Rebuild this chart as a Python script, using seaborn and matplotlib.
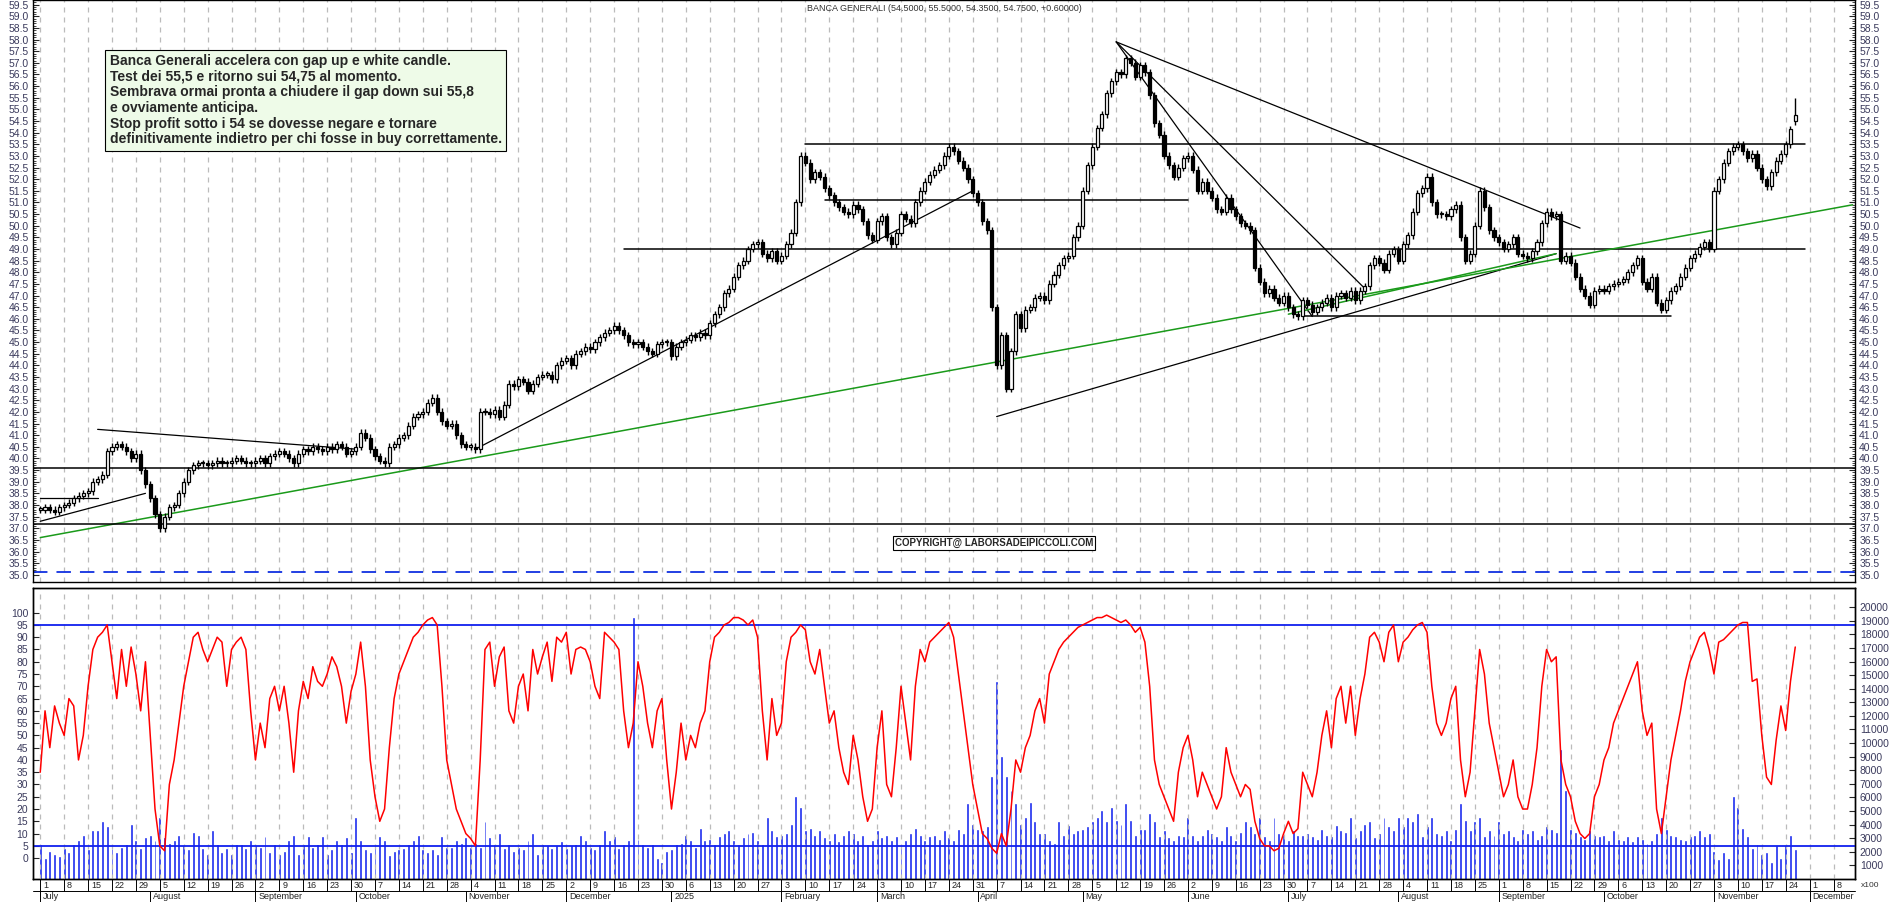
import numpy as np
import pandas as pd
import seaborn as sns
import matplotlib
matplotlib.use("Agg")
from matplotlib import pyplot as plt
import matplotlib.transforms as mtrans

# ---- data ----
closes = (
    [37.8,37.9,37.8,37.7,37.9,38.0,38.1,38.3,38.4,38.5,38.6,39.0,39.1,39.3,40.3,40.5,40.6,40.5,40.3,40.0,40.2,39.5,38.9] +
    [38.3,37.6,37.0,37.5,37.9,38.0,38.5,39.0,39.5,39.7,39.8,39.8,39.7,39.8,39.9,39.8,39.8,39.9,40.0,39.9,39.8,39.8] +
    [39.9,40.0,39.8,40.1,40.2,40.3,40.2,40.0,39.8,40.2,40.4,40.3,40.5,40.4,40.3,40.5,40.4,40.6,40.5,40.2,40.3] +
    [40.5,41.1,40.9,40.4,40.1,39.9,39.8,40.5,40.6,40.9,41.0,41.4,41.8,41.9,42.0,42.4,42.6,42.0,41.6,41.4,41.5,41.0,40.6] +
    [40.5,40.5,40.4,42.0,42.0,41.9,42.1,41.8,42.3,43.2,43.1,43.4,43.3,42.9,43.2,43.5,43.6,43.6,43.4,44.0,44.2] +
    [44.3,44.0,44.5,44.6,44.8,44.7,45.0,45.2,45.4,45.5,45.7,45.5,45.3,45.0,44.9,45.0,44.8,44.6,44.5,44.9,45.0,45.0] +
    [44.4,44.8,45.0,45.1,45.3,45.2,45.4,45.3,45.8,46.2,46.5,47.1,47.3,47.8,48.3,48.5,49.0,49.2,49.3,48.8,48.6,48.9,48.5] +
    [48.7,49.2,49.7,51.0,53.0,52.7,52.0,52.3,52.1,51.6,51.3,51.0,50.8,50.6,50.5,50.9,50.7,50.2,49.6,49.4] +
    [50.2,50.4,49.5,49.2,49.7,50.5,50.3,50.1,51.0,51.5,51.9,52.2,52.4,52.6,53.0,53.4,53.2,52.8,52.5,52.0,51.4] +
    [51.0,50.2,49.8,46.5,44.0,45.3,43.0,44.6,46.2,45.6,46.4,46.5,46.9,47.0,46.8,47.5,47.9,48.3,48.6,48.7,49.5,50.0] +
    [51.5,52.6,53.4,54.2,54.8,55.7,56.2,56.6,56.5,57.2,57.0,56.4,56.9,56.6,55.6,54.4,53.9,53.0,52.6,52.1,52.5,52.9] +
    [53.0,52.4,51.5,51.9,51.5,51.2,50.7,50.6,51.2,50.7,50.4,50.1,50.0,49.8,48.2,47.6,47.1,47.3,46.9,46.7,47.0] +
    [46.5,46.2,46.1,46.8,46.6,46.3,46.5,46.7,46.9,46.5,47.0,47.1,46.9,47.2,46.8,47.2,47.4,48.3,48.6,48.4,48.1,48.8,49.0] +
    [48.5,49.2,49.6,50.6,51.4,51.6,52.1,51.0,50.5,50.5,50.4,50.7,50.9,49.5,48.5,48.8,50.0,51.5,50.8,49.8,49.5] +
    [49.3,49.0,49.2,49.5,48.8,48.7,48.6,48.9,49.3,50.1,50.6,50.4,50.5,48.5,48.7,48.4,47.8,47.3,47.0,46.6,47.2,47.3] +
    [47.2,47.4,47.5,47.6,47.7,48.0,48.3,48.6,47.6,47.3,47.8,46.7,46.4,46.8,47.2,47.4,47.8,48.2,48.6,48.8,49.1,49.3,49.0] +
    [51.5,52.0,52.7,53.2,53.4,53.5,53.2,52.9,53.1,52.5,52.0,51.7,52.3,52.8,53.1,53.5,54.15,54.75]
)
last_open, last_high, last_low = 54.5, 55.5, 54.35

stoch = (
    [35,60,45,62,55,50,65,62,40,50,70,85,90,92,95,80,65,85,70,86,75,60,80] +
    [50,20,5,3,30,40,55,70,80,90,92,85,80,85,90,88,70,85,88,90,85,60] +
    [40,55,45,65,70,60,70,55,35,60,72,65,78,72,70,75,82,78,70,55,68] +
    [75,88,70,40,25,15,20,45,65,75,80,85,90,92,95,97,98,95,70,40,30,20,15] +
    [10,8,5,40,85,88,70,82,86,60,55,70,75,60,85,75,82,88,72,90,88] +
    [92,75,85,86,85,80,70,65,92,90,88,85,60,45,55,80,70,55,45,60,65,40] +
    [20,35,55,40,50,45,55,60,80,90,92,95,96,98,98,97,95,97,90,60,40,65,50] +
    [55,80,90,92,95,93,80,75,85,70,55,60,45,35,30,50,40,25,15,20] +
    [45,60,30,25,45,70,55,40,70,85,80,88,90,92,94,96,90,75,60,45,30] +
    [20,10,8,4,2,10,5,20,40,35,45,50,60,65,55,75,80,85,88,90,92,94] +
    [95,96,97,98,98,99,98,97,96,97,95,92,94,88,70,40,30,25,20,15,35,45] +
    [50,40,25,35,30,25,20,25,45,35,30,25,30,28,15,8,5,5,3,4,10] +
    [15,10,12,35,30,25,35,50,60,45,65,70,55,70,50,65,75,90,92,88,80,92,95] +
    [80,88,90,93,95,96,92,70,55,50,55,65,70,40,25,35,60,85,75,55,45] +
    [35,25,30,40,25,20,20,30,45,70,85,80,82,40,30,25,15,10,8,10,25,30] +
    [40,45,55,60,65,70,75,80,60,50,55,20,10,25,40,50,60,72,80,85,90,92,85] +
    [75,88,89,91,93,95,96,96,72,73,50,33,30,48,62,52,72,86]
)

volume_k = (
    [2.5,1.5,2,1.8,1.6,2.2,1.9,2.5,2.8,3.2,2.1,3.5,3.5,4.2,3.8,2.2,1.9,2.3,2.5,4,2.8,2.2,3] +
    [3.2,2.8,4.5,3,2.6,2.8,3.2,2.4,2.1,3.4,3.2,2.2,1.8,3.5,2.5,1.9,2.2,1.8,2.5,2.5,2.2,2.8] +
    [2.4,2.3,3.1,1.9,2.5,1.8,2,2.8,3.2,1.8,2.5,3.1,2.3,2.5,3.1,1.8,2.1,2.8,2.5,3,1.9] +
    [4.5,2.8,2.1,1.9,2.5,3.1,2.8,1.7,2,2.1,2.2,2.5,2.8,3.2,2.1,1.9,2.1,1.8,3.1,2.3,2.3,2.8,2.6] +
    [3,2.3,2.6,2.3,4.2,3,2.5,3.3,2.2,2.5,2,2.3,2.1,2.8,3.3,1.8,2.5,2.4,2.2,2.4,2.7] +
    [2.2,2.4,2.5,3.2,2.8,2.3,2.1,2.5,3.5,2.8,3.1,2.2,2.5,2.8,19.2,2.9,2.5,2.3,2.5,1.5,1.2,2] +
    [2.1,2.5,2.6,3.2,2.8,2.3,3.7,2.8,2.9,2.5,3.1,3.3,3.5,2.8,2.5,3,3.3,3.4,2.8,2.5,4.5,3.5,3.1] +
    [3.2,3.3,4,6,5.2,3.5,3.7,3.2,3.5,3,2.8,3.3,2.7,3.2,3.5,3.3,2.8,3.2,2.5,2.8] +
    [3.5,3,3.2,2.8,3.1,2.5,2.8,3.3,3.7,3.2,2.8,3.1,3.2,2.9,3.5,3,2.8,3.6,3.3,5.5,4] +
    [3.6,3.5,3.8,7.5,14.5,9,7.5,6.5,5.5,4,4.5,5.6,4.2,3.3,3.3,2.8,2.6,4.2,3.2,3.9,3.3,3.5] +
    [3.6,3.8,4.2,4.5,5,4.2,5.2,4.3,4,5.5,4.3,3.2,3.6,3.6,4.8,4.2,3.1,3.5,3,2.8,3.2,3.1] +
    [4.5,3.2,2.8,3.2,3.6,3.3,3.1,2.8,3.8,3.2,2.8,3.4,4.2,3.8,3.3,4.5,3.1,2.8,4.5,3.3,3.2] +
    [2.8,3.5,3.2,3.2,3.3,3.1,2.9,3.6,3.2,3.1,3.9,3.5,3.4,4.5,3,3.5,4,4.2,3,3.3,4.5,3.8,3.5] +
    [4.5,3.8,4.5,4.2,4.8,3.1,3.8,4.5,3.3,3.2,3.5,2.8,3.6,5.5,4.3,3.5,4.2,4.5,3.1,3.5,3.2] +
    [4.2,3.3,3.5,3.1,2.8,3.6,3.3,3.5,2.9,3.2,3.8,3.6,3.4,9.5,6.5,3.6,3.4,3.1,2.9,3.5,3.2,3.1] +
    [3.2,2.8,3.5,2.9,2.8,3.1,2.7,3.1,2.9,2.6,2.8,3.3,4.5,3.6,3.2,3.1,2.9,2.8,3.1,3.2,3.5,3.1,3.3] +
    [2,1.4,1.9,1.5,6,5.2,3.7,3.1,2.2,2.5,1.8,1.9,1.2,2.4,1.5,2.4,3.2,2.1,2.4,1.6,1.2]
)

# support / resistance and trendlines (date, price)
hlines = [("2025-02-10", "2025-11-28", 53.5), ("2025-02-14", "2025-06-02", 51.1),
          ("2024-12-18", "2025-11-28", 49.0), ("2025-07-04", "2025-10-21", 46.1)]
black_lines = [("2024-07-01", 37.3, "2024-07-31", 38.5), ("2024-07-01", 38.3, "2024-07-17", 38.3),
               ("2024-07-17", 41.25, "2024-10-01", 40.4), ("2024-11-05", 40.4, "2025-03-31", 51.5),
               ("2025-04-07", 41.8, "2025-09-17", 48.8), ("2025-05-12", 57.9, "2025-09-24", 49.9),
               ("2025-05-12", 57.9, "2025-07-23", 47.3), ("2025-05-12", 57.9, "2025-07-08", 46.1)]
green_lines = [("2024-06-28", 36.6, "2025-12-12", 50.9), ("2025-07-01", 46.2, "2025-09-17", 48.8)]

note = ("Banca Generali accelera con gap up e white candle.\n"
        "Test dei 55,5 e ritorno sui 54,75 al momento.\n"
        "Sembrava ormai pronta a chiudere il gap down sui 55,8\n"
        "e ovviamente anticipa.\n"
        "Stop profit sotto i 54 se dovesse negare e tornare\n"
        "definitivamente indietro per chi fosse in buy correttamente.")

# ---- build frame ----
n = min(len(closes), len(stoch), len(volume_k))
dates = pd.bdate_range("2024-07-01", periods=n + 12)
df = pd.DataFrame({"idx": np.arange(n), "close": closes[:n], "stoch": stoch[:n],
                   "vol": np.array(volume_k[:n]) * 1000})
df["open"] = df["close"].shift(1).fillna(df["close"].iloc[0])
df.loc[n - 1, "open"] = last_open
df["high"] = df[["open", "close"]].max(axis=1) + 0.15
df["low"] = df[["open", "close"]].min(axis=1) - 0.15
df.loc[n - 1, "high"] = last_high
df.loc[n - 1, "low"] = last_low


def xi(d):
    return dates.searchsorted(pd.Timestamp(d))


sns.set_style("white")
plt.rcParams["font.family"] = ["Liberation Sans", "DejaVu Sans"]
tickc = "#3a3a5c"

fig = plt.figure(figsize=(18.9, 9.02), dpi=100)
ax = fig.add_axes([0.0175, 0.355, 0.964, 0.645])
ax2 = fig.add_axes([0.0175, 0.0255, 0.964, 0.3225])
xmin, xmax = -1.5, n + 11.5

# candles
up = df["close"] >= df["open"]
ax.vlines(df["idx"], df["low"], df["high"], color="black", lw=1, zorder=3)
body = (df["close"] - df["open"]).abs().clip(lower=0.06)
ax.bar(df["idx"][up], body[up], bottom=df["open"][up], width=0.65,
       color="white", edgecolor="black", lw=0.9, zorder=4)
ax.bar(df["idx"][~up], body[~up], bottom=df["close"][~up], width=0.65,
       color="black", edgecolor="black", lw=0.9, zorder=4)

for d0, d1, p in hlines:
    ax.plot([xi(d0), xi(d1)], [p, p], color="black", lw=1.1, zorder=2)
for d0, p0, d1, p1 in black_lines:
    ax.plot([xi(d0), xi(d1)], [p0, p1], color="black", lw=0.9, zorder=2)
for d0, p0, d1, p1 in green_lines:
    ax.plot([xi(d0), xi(d1)], [p0, p1], color="#1a9a1a", lw=1.1, zorder=2)
ax.axhline(39.6, color="black", lw=1.1)
ax.axhline(37.2, color="black", lw=1.1)
ax.axhline(35.1, color="#1030e0", lw=1.3, ls=(0, (8, 5)))

ax.set_xlim(xmin, xmax)
ax.set_ylim(34.7, 59.68)
ax.set_yticks(np.arange(35, 59.51, 0.5))
ax.set_yticks(np.arange(35, 59.7, 0.1), minor=True)
ax.yaxis.set_major_formatter(matplotlib.ticker.FormatStrFormatter("%.1f"))
ax.tick_params(axis="y", which="both", left=True, right=True, labelleft=True, labelright=True,
               labelsize=7.5, labelcolor=tickc, length=4, direction="in", pad=3)
ax.tick_params(axis="y", which="minor", length=2)
ax.set_xticks([])

ax.text(0.5, 0.993, "BANCA GENERALI (54.5000, 55.5000, 54.3500, 54.7500, +0.60000)",
        transform=ax.transAxes, ha="center", va="top", fontsize=6.5, color="#333")
fig.text(0.058, 0.94, note, ha="left", va="top", fontsize=10, fontweight="bold", linespacing=1.15,
         bbox=dict(boxstyle="square,pad=0.3", fc="#eefbe8", ec="black", lw=0.8))
fig.text(0.526, 0.398, "COPYRIGHT@ LABORSADEIPICCOLI.COM", ha="center", va="center",
         fontsize=7, fontweight="bold", bbox=dict(boxstyle="square,pad=0.15", fc="white", ec="black", lw=0.8))

# lower panel: volume (right) + stochastic (left)
axv = ax2.twinx()
axv.bar(df["idx"], df["vol"], width=0.2, color="#1020ee", edgecolor="#1020ee", lw=0.4, zorder=1)
axv.set_ylim(0, 21400)
axv.set_yticks(np.arange(1000, 20001, 1000))
axv.tick_params(axis="y", labelsize=7.5, labelcolor=tickc, direction="in", length=4)
sns.lineplot(data=df, x="idx", y="stoch", ax=ax2, color="red", lw=1.1, zorder=5)
ax2.set_zorder(axv.get_zorder() + 1)
ax2.patch.set_visible(False)
ax2.axhline(95, color="#1020ee", lw=1.3)
ax2.axhline(5, color="#1020ee", lw=1.3)
ax2.set_ylim(-8.5, 110)
ax2.set_yticks(np.arange(0, 101, 5))
ax2.tick_params(axis="y", labelsize=7.5, labelcolor=tickc, direction="in", length=4)
ax2.set_xlim(xmin, xmax)
ax2.set_xlabel("")
ax2.set_ylabel("")
axv.set_ylabel("")
ax2.set_xticks([])
axv.text(1.003, -0.01, "x100", transform=axv.transAxes, fontsize=6, va="top", color="#333")

# weekly grid and date labels
trans = mtrans.blended_transform_factory(ax2.transData, fig.transFigure)
mondays = [i for i, d in enumerate(dates) if d.weekday() == 0]
for i in mondays:
    for a in (ax, ax2):
        a.axvline(i, color="#bbbbbb", lw=0.9, ls=(0, (4, 4)), zorder=0)
    ax2.text(i + 0.6, 0.0235, str(dates[i].day), transform=trans, fontsize=6.5, va="top", color="#222")
    fig.add_artist(plt.Line2D([i, i], [0.0255, 0.012], transform=trans, color="black", lw=0.7))
month_start = [i for i in range(len(dates)) if i == 0 or dates[i].month != dates[i - 1].month]
for i in month_start:
    name = "2025" if (dates[i].month == 1) else dates[i].strftime("%B")
    ax2.text(i + 0.6, 0.011, name, transform=trans, fontsize=6.5, va="top", color="#222")
    fig.add_artist(plt.Line2D([i, i], [0.012, 0.0], transform=trans, color="black", lw=0.7))
fig.add_artist(plt.Line2D([0.0175, 0.9815], [0.012, 0.012], color="black", lw=0.7))

for a in (ax, ax2, axv):
    for s in a.spines.values():
        s.set_color("black")
        s.set_linewidth(1)

fig.savefig("out.png", dpi=100)
